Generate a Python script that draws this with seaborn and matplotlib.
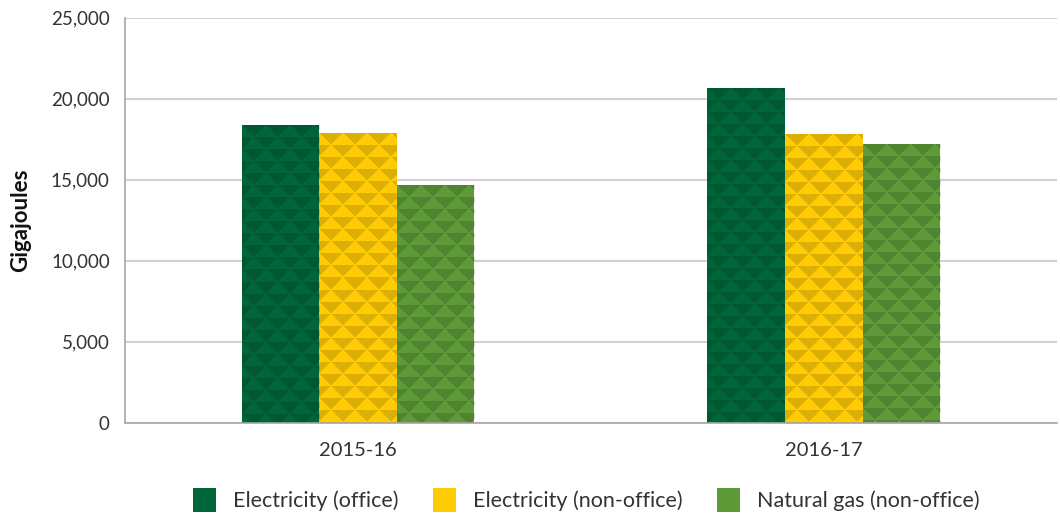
import numpy as np
import pandas as pd
import matplotlib
matplotlib.use("Agg")
import matplotlib.pyplot as plt
import seaborn as sns
from matplotlib.patches import Rectangle
from matplotlib.ticker import MultipleLocator, FuncFormatter

years = ["2015-16", "2016-17"]
series = ["Electricity (office)", "Electricity (non-office)", "Natural gas (non-office)"]
elec_office = [18350, 20650]
elec_nonoffice = [17850, 17800]
gas_nonoffice = [14650, 17200]
colors = ["#00663a", "#ffcb05", "#5e9a38"]

sns.set_theme(style="white")
plt.rcParams["font.family"] = ["Lato", "DejaVu Sans"]

df = pd.DataFrame({
    "Year": years * 3,
    "Source": [s for s in series for _ in years],
    "GJ": elec_office + elec_nonoffice + gas_nonoffice,
})

fig = plt.figure(figsize=(10.6, 5.15), dpi=100)
ax = fig.add_axes([0.118, 0.179, 0.879, 0.787])
sns.barplot(data=df, x="Year", y="GJ", hue="Source", hue_order=series,
            palette=colors, width=0.5, saturation=1, ax=ax, legend=False,
            linewidth=0, errorbar=None)

ax.set_ylim(0, 25000)
ax.set_xlim(-0.5, 1.5)
ax.yaxis.set_major_locator(MultipleLocator(5000))
ax.yaxis.set_major_formatter(FuncFormatter(lambda v, p: f"{int(v):,}"))
ax.grid(axis="y", color="#d2d2d2", lw=1.5)
ax.grid(axis="x", visible=False)
ax.set_axisbelow(True)
for s in ["top", "right"]:
    ax.spines[s].set_visible(False)
for s in ["left", "bottom"]:
    ax.spines[s].set_color("#a6a6a6")
    ax.spines[s].set_linewidth(1.2)

ax.tick_params(axis="y", length=0, pad=11, labelsize=13.5, labelcolor="#333333")
ax.tick_params(axis="x", which="major", length=0, pad=14, labelsize=14.5, labelcolor="#333333")
ax.set_xticks([0.5], minor=True)
ax.tick_params(axis="x", which="minor", direction="in", length=9, color="#c8c8c8", width=1)
ax.set_xlabel("")
ax.set_ylabel("Gigajoules", fontsize=16, fontweight="bold", color="#111111")
ax.yaxis.set_label_coords(-0.101, 0.5)

# triangle texture overlay
fig.canvas.draw()
p = 12
for bar in list(ax.patches):
    bb = bar.get_window_extent()
    nx, ny = max(int(round(bb.width)), 1), max(int(round(bb.height)), 1)
    jj, ii = np.meshgrid(np.arange(nx), np.arange(ny))
    a, b = jj % p, ii % p
    cell = (jj // p + ii // p) % 2
    dark = np.where(cell == 0, a > b, a + b < p - 1)
    tex = np.zeros((ny, nx, 4))
    tex[..., 3] = np.where(dark, 0.14, 0.0)
    x0, y0 = bar.get_x(), bar.get_y()
    x1, y1 = x0 + bar.get_width(), y0 + bar.get_height()
    im = ax.imshow(tex, extent=(x0, x1, y0, y1), aspect="auto",
                   interpolation="nearest", origin="upper", zorder=bar.get_zorder() + 0.1)
    im.set_clip_path(bar)
ax.set_xlim(-0.5, 1.5)
ax.set_ylim(0, 25000)

handles = [Rectangle((0, 0), 1, 1, fc=c, ec="none") for c in colors]
leg = ax.legend(handles, series, loc="center", bbox_to_anchor=(0.495, -0.19),
                ncol=3, frameon=False, fontsize=15.5, handlelength=1.05,
                handleheight=1.35, handletextpad=0.8, columnspacing=1.6)
for t in leg.get_texts():
    t.set_color("#333333")

fig.savefig("out.png", dpi=100)
